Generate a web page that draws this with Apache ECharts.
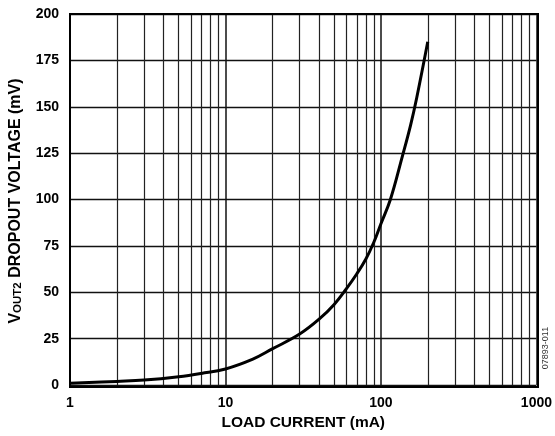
<!DOCTYPE html>
<html>
<head>
<meta charset="utf-8">
<script src="https://cdn.jsdelivr.net/npm/echarts@6/dist/echarts.min.js"></script>
<style>html,body{margin:0;padding:0;background:#fff;}#c{width:555px;height:436px;}</style>
</head>
<body>
<div id="c"></div>
<script>
var loadCurrent = [1, 2, 3, 5, 7, 10, 15, 20, 30, 40, 50, 60, 70, 80, 90, 100, 115, 137, 155, 170, 200];
var dropout     = [1.0, 2.0, 2.7, 4.5, 6.3, 8.7, 14, 19.5, 27.5, 35.5, 43.5, 52, 60, 68, 77, 87, 100, 123, 140, 155, 185];
var minorGridX = [2,3,4,5,6,7,8,9,20,30,40,50,60,70,80,90,200,300,400,500,600,700,800,900];
var xTicks = [1, 10, 100, 1000];
var yTicks = [0, 25, 50, 75, 100, 125, 150, 175, 200];

var FONT = '"Liberation Sans", Arial, sans-serif';
var chart = echarts.init(document.getElementById('c'));
var pts = loadCurrent.map(function (v, i) { return [v, dropout[i]]; });

chart.setOption({
  animation: false,
  backgroundColor: '#fff',
  grid: {left: 70, right: 17, top: 14, bottom: 49, containLabel: false},
  xAxis: {
    type: 'log', logBase: 10, min: xTicks[0], max: xTicks[xTicks.length - 1],
    name: 'LOAD CURRENT (mA)', nameLocation: 'middle', nameGap: 27,
    nameTextStyle: {fontFamily: FONT, fontWeight: 'bold', fontSize: 15.5, color: '#000'},
    axisLine: {show: false},
    axisTick: {show: false},
    axisLabel: {margin: 11, fontFamily: FONT, fontWeight: 'bold', fontSize: 14, color: '#000',
      formatter: function (v) { return String(Math.round(v)); }},
    splitLine: {show: true, lineStyle: {color: '#111', width: 1.5}}
  },
  yAxis: {
    type: 'value', min: yTicks[0], max: yTicks[yTicks.length - 1], interval: 25,
    axisLine: {show: false},
    axisTick: {show: false},
    axisLabel: {margin: 11, fontFamily: FONT, fontWeight: 'bold', fontSize: 14, color: '#000'},
    splitLine: {show: true, lineStyle: {color: '#111', width: 1.3}}
  },
  series: [{
    type: 'line', data: pts, smooth: 0.4, symbol: 'none',
    lineStyle: {color: '#000', width: 3},
    z: 5,
    markLine: {
      silent: true, symbol: 'none', label: {show: false},
      lineStyle: {color: '#222', width: 1.2, type: 'solid'},
      data: minorGridX.map(function (v) { return {xAxis: v}; }),
      z: 1
    }
  }],
  graphic: [
    {type: 'rect', shape: {x: 70, y: 14, width: 468, height: 373}, style: {fill: 'none', stroke: '#000', lineWidth: 2}, z: 10},
    {type: 'text', x: 14, y: 201, rotation: Math.PI / 2,
     style: {
       text: '{a|V}{s|OUT2}{a| DROPOUT VOLTAGE (mV)}',
       align: 'center', verticalAlign: 'middle',
       rich: {
         a: {fontFamily: FONT, fontWeight: 'bold', fontSize: 16, fill: '#000', lineHeight: 19, verticalAlign: 'bottom'},
         s: {fontFamily: FONT, fontWeight: 'bold', fontSize: 11.5, fill: '#000', lineHeight: 19, verticalAlign: 'bottom'}
       }
     }},
    {type: 'text', x: 546, y: 348, rotation: Math.PI / 2,
     style: {text: '07893-011', align: 'center', verticalAlign: 'middle', fontFamily: FONT, fontSize: 9, fill: '#333'}}
  ]
});
</script>
</body>
</html>
